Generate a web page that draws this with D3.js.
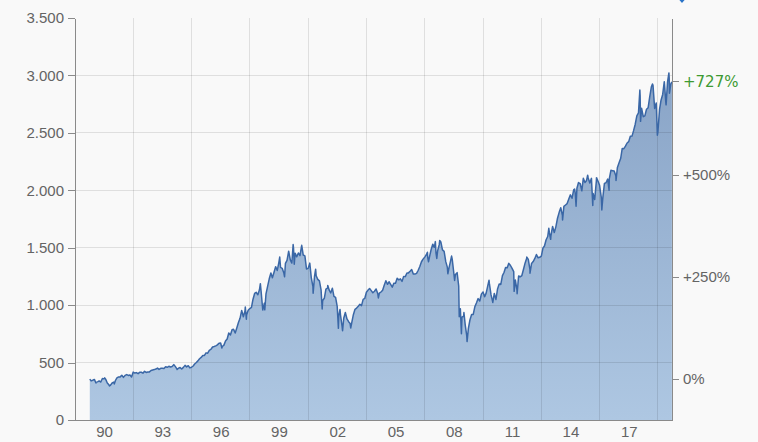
<!DOCTYPE html>
<meta charset="utf-8">
<style>
    body {
        margin: 0;
        background: #f9f9f9;
    }
    svg {
        display: block;
        font-family: "DejaVu Sans", Verdana, sans-serif;
    }
    .axis path,
    .axis line {
        fill: none;
        stroke: #8a8a8a;
        shape-rendering: crispEdges;
    }
    .axis text {
        fill: #646464;
        font-size: 15px;
    }
    .grid line {
        stroke: #000;
        stroke-opacity: 0.1;
        shape-rendering: crispEdges;
    }
</style>
<body>
<script src="https://cdn.jsdelivr.net/npm/d3@7"></script>
<script>
    // month-end closes, starting with October 1989
    const firstMonth = "1989-10"
    const monthlyClose = [
        340.4, 346.0, 353.4,
        329.1, 331.9, 339.9, 330.8, 361.2, 358.0, 356.2, 322.6, 306.1, 304.0, 322.2, 330.2,
        343.9, 367.1, 375.2, 375.4, 389.8, 371.2, 387.8, 395.4, 387.9, 392.5, 375.2, 417.1,
        408.8, 412.7, 403.7, 415.0, 415.4, 408.1, 424.2, 414.0, 417.8, 418.7, 431.4, 435.7,
        438.8, 443.4, 451.7, 440.2, 450.2, 450.5, 448.1, 463.6, 458.9, 467.8, 461.8, 466.5,
        481.6, 467.1, 445.8, 450.9, 456.5, 444.3, 458.3, 475.5, 462.7, 472.4, 453.7, 459.3,
        470.4, 487.4, 500.7, 514.7, 533.4, 544.8, 562.1, 561.9, 584.4, 581.5, 605.4, 615.9,
        636.0, 640.4, 645.5, 654.2, 669.1, 670.6, 640.0, 652.0, 687.3, 705.3, 757.0, 740.7,
        786.2, 790.8, 757.1, 801.3, 848.3, 885.1, 954.3, 899.5, 947.3, 914.6, 955.4, 970.4,
        980.3, 1049.3, 1101.8, 1111.8, 1090.8, 1133.8, 1120.7, 957.3, 1017.0, 1098.7, 1163.6, 1229.2,
        1279.6, 1238.3, 1286.4, 1335.2, 1301.8, 1372.7, 1328.7, 1320.4, 1282.7, 1362.9, 1388.9, 1469.3,
        1394.5, 1366.4, 1498.6, 1452.4, 1420.6, 1454.6, 1430.8, 1517.7, 1436.5, 1429.4, 1315.0, 1320.3,
        1366.0, 1239.9, 1160.3, 1249.5, 1255.8, 1224.4, 1211.2, 1133.6, 1040.9, 1059.8, 1139.5, 1148.1,
        1130.2, 1106.7, 1147.4, 1076.9, 1067.1, 989.8, 911.6, 916.1, 815.3, 885.8, 936.3, 879.8,
        855.7, 841.2, 848.2, 916.9, 963.6, 974.5, 990.3, 1008.0, 996.0, 1050.7, 1058.2, 1111.9,
        1131.1, 1144.9, 1126.2, 1107.3, 1120.7, 1140.8, 1101.7, 1104.2, 1114.6, 1130.2, 1173.8, 1211.9,
        1181.3, 1203.6, 1180.6, 1156.9, 1191.5, 1191.3, 1234.2, 1220.3, 1228.8, 1207.0, 1249.5, 1248.3,
        1280.1, 1280.7, 1294.8, 1310.6, 1270.1, 1270.2, 1276.7, 1303.8, 1335.9, 1377.9, 1400.6, 1418.3,
        1438.2, 1406.8, 1420.9, 1482.4, 1530.6, 1503.4, 1455.3, 1474.0, 1526.8, 1549.4, 1481.1, 1468.4,
        1378.6, 1330.6, 1322.7, 1385.6, 1400.4, 1280.0, 1267.4, 1282.8, 1166.4, 968.8, 896.2, 903.3,
        825.9, 735.1, 797.9, 872.8, 919.1, 919.3, 987.5, 1020.6, 1057.1, 1036.2, 1095.6, 1115.1,
        1073.9, 1104.5, 1169.4, 1186.7, 1089.4, 1030.7, 1101.6, 1049.3, 1141.2, 1183.3, 1180.6, 1257.6,
        1286.1, 1327.2, 1325.8, 1363.6, 1345.2, 1320.6, 1292.3, 1218.9, 1131.4, 1253.3, 1247.0, 1257.6,
        1312.4, 1365.7, 1408.5, 1397.9, 1310.3, 1362.2, 1379.3, 1406.6, 1440.7, 1412.2, 1416.2, 1426.2,
        1498.1, 1514.7, 1569.2, 1597.6, 1630.7, 1606.3, 1685.7, 1633.0, 1681.6, 1756.5, 1805.8, 1848.4,
        1782.6, 1859.5, 1872.3, 1884.0, 1923.6, 1960.2, 1930.7, 2003.4, 1972.3, 2018.1, 2067.6, 2058.9,
        1995.0, 2104.5, 2067.9, 2085.5, 2107.4, 2063.1, 2103.8, 1972.2, 1920.0, 2079.4, 2080.4, 2043.9,
        1940.2, 1932.2, 2059.7, 2065.3, 2097.0, 2098.9, 2173.6, 2171.0, 2168.3, 2126.2, 2198.8, 2238.8,
        2278.9, 2363.6, 2362.7, 2384.2, 2411.8, 2423.4, 2470.3, 2471.7, 2519.4, 2575.3, 2647.6, 2673.6,
        2823.8, 2713.8, 2640.9, 2648.1, 2705.3, 2718.4, 2816.3, 2901.5, 2914.0, 2711.7, 2760.2, 2506.9,
        2704.1, 2784.5, 2834.4, 2945.8, 2752.1, 2941.8, 2980.4, 2926.5
    ]

    // weekly highs and lows in between the month ends
    const weeklyExtremes = [
        ["1989-10-06", 356], ["1990-01-30", 322], ["1990-07-13", 367], ["1990-10-11", 296],
        ["1991-01-09", 314], ["1994-02-02", 482], ["1994-04-04", 439], ["1996-07-24", 627],
        ["1997-10-07", 983], ["1997-10-27", 877], ["1998-07-17", 1187], ["1998-10-08", 959],
        ["1999-07-16", 1419], ["1999-10-15", 1247], ["2000-03-24", 1527], ["2000-04-14", 1357],
        ["2000-09-01", 1521], ["2001-04-04", 1103], ["2001-05-21", 1313], ["2001-09-21", 966],
        ["2002-01-04", 1172], ["2002-07-23", 798], ["2002-08-22", 963], ["2002-10-09", 777],
        ["2003-03-11", 801], ["2004-08-12", 1063], ["2007-02-20", 1460], ["2007-03-13", 1378],
        ["2007-07-19", 1553], ["2007-08-15", 1407], ["2007-10-09", 1562], ["2008-03-10", 1273],
        ["2008-05-19", 1427], ["2008-07-15", 1215], ["2008-10-10", 899], ["2008-11-20", 752],
        ["2009-01-06", 935], ["2009-03-06", 683], ["2010-04-23", 1217], ["2010-07-02", 1023],
        ["2011-04-29", 1364], ["2011-08-08", 1120], ["2011-10-03", 1099], ["2012-04-02", 1419],
        ["2012-06-01", 1278], ["2013-05-21", 1669], ["2013-06-24", 1573], ["2014-02-03", 1742],
        ["2014-09-18", 2011], ["2014-10-15", 1862], ["2015-05-21", 2131], ["2015-08-25", 1868],
        ["2015-11-03", 2110], ["2016-02-11", 1829], ["2016-06-27", 2000], ["2016-11-04", 2085],
        ["2018-01-26", 2873], ["2018-02-08", 2600], ["2018-09-20", 2926], ["2018-12-21", 2480],
        ["2019-06-03", 2744], ["2019-07-26", 3022], ["2019-08-05", 2845], ["2019-09-20", 2944]
    ]

    const yTicks = [0, 500, 1000, 1500, 2000, 2500, 3000, 3500]
    const pctTicks = [0, 250, 500]
    const labelYears = [1990, 1993, 1996, 1999, 2002, 2005, 2008, 2011, 2014, 2017]
    const gridYears = [1992, 1995, 1998, 2001, 2004, 2007, 2010, 2013, 2016, 2019]

    const width = 758, height = 442
    const plot = {left: 75, right: 672, top: 18, bottom: 420}

    const parseMonth = d3.timeParse("%Y-%m")
    const parseDay = d3.timeParse("%Y-%m-%d")
    const start = parseMonth(firstMonth)

    let data = monthlyClose.map((v, i) => ({
        date: d3.timeDay.offset(d3.timeMonth.offset(start, i + 1), -1),
        value: v
    }))
    weeklyExtremes.forEach(d => data.push({date: parseDay(d[0]), value: d[1]}))
    data.sort((a, b) => a.date - b.date)

    const base = data[0].value
    const last = data[data.length - 1].value

    let x = d3.scaleTime()
        .domain([new Date(1989, 0, 1), new Date(2019, 8, 22)])
        .range([plot.left, plot.right])

    let y = d3.scaleLinear()
        .domain([0, 3500])
        .range([plot.bottom, plot.top])

    // percent change relative to the first value
    let yPct = d3.scaleLinear()
        .domain([-100, (3500 / base - 1) * 100])
        .range([plot.bottom, plot.top])

    const de = d3.formatLocale({decimal: ",", thousands: ".", grouping: [3], currency: ["", ""]})

    let svg = d3.select("body").append("svg")
        .attr("width", width)
        .attr("height", height)

    let grad = svg.append("defs").append("linearGradient")
        .attr("id", "areaFill")
        .attr("gradientUnits", "userSpaceOnUse")
        .attr("x1", 0).attr("x2", 0)
        .attr("y1", y(3100)).attr("y2", y(0))
    grad.append("stop").attr("offset", "0%").attr("stop-color", "#88a3c6")
    grad.append("stop").attr("offset", "100%").attr("stop-color", "#aec7e2")

    svg.append("path")
        .datum(data)
        .attr("fill", "url(#areaFill)")
        .attr("d", d3.area()
            .x(d => x(d.date))
            .y0(y(0))
            .y1(d => y(d.value)))

    // grid drawn over the area, semi-transparent
    let grid = svg.append("g").attr("class", "grid")
    grid.selectAll(".h")
        .data(yTicks.slice(1, -1))
        .enter().append("line")
        .attr("x1", plot.left).attr("x2", plot.right)
        .attr("y1", d => y(d)).attr("y2", d => y(d))
    grid.selectAll(".v")
        .data(gridYears)
        .enter().append("line")
        .attr("x1", d => x(new Date(d, 0, 1))).attr("x2", d => x(new Date(d, 0, 1)))
        .attr("y1", plot.top).attr("y2", plot.bottom)

    svg.append("path")
        .datum(data)
        .attr("fill", "none")
        .attr("stroke", "#3a67a6")
        .attr("stroke-width", 1.5)
        .attr("stroke-linejoin", "round")
        .attr("d", d3.line()
            .x(d => x(d.date))
            .y(d => y(d.value)))

    svg.append("g")
        .attr("class", "axis")
        .attr("transform", "translate(" + plot.left + ",0)")
        .call(d3.axisLeft(y)
            .tickValues(yTicks)
            .tickSize(7)
            .tickSizeOuter(0)
            .tickPadding(4)
            .tickFormat(de.format(",")))

    svg.append("g")
        .attr("class", "axis")
        .attr("transform", "translate(0," + plot.bottom + ")")
        .call(d3.axisBottom(x)
            .tickValues(labelYears.map(yr => new Date(yr, 6, 1)))
            .tickSize(0)
            .tickPadding(6)
            .tickFormat(d3.timeFormat("%y")))

    svg.append("g")
        .attr("class", "axis")
        .attr("transform", "translate(" + plot.right + ",0)")
        .call(d3.axisRight(yPct)
            .tickValues(pctTicks)
            .tickSize(7)
            .tickSizeOuter(0)
            .tickPadding(4)
            .tickFormat(p => p === 0 ? "0%" : "+" + p + "%"))

    // current change marker
    const endPct = Math.round((last / base - 1) * 100)
    svg.append("line")
        .attr("x1", plot.right).attr("x2", plot.right + 7)
        .attr("y1", y(last)).attr("y2", y(last))
        .attr("stroke", "#8a8a8a")
        .style("shape-rendering", "crispEdges")
    svg.append("text")
        .attr("x", plot.right + 11)
        .attr("y", y(last))
        .attr("dy", "0.32em")
        .attr("fill", "#3d9a32")
        .style("font-size", "15px")
        .text("+" + endPct + "%")

    // edge of a control cut off at the top
    svg.append("path")
        .attr("d", "M679,-2L682,1.5L685,-2")
        .attr("fill", "none")
        .attr("stroke", "#2a74c8")
        .attr("stroke-width", 2)
</script>
